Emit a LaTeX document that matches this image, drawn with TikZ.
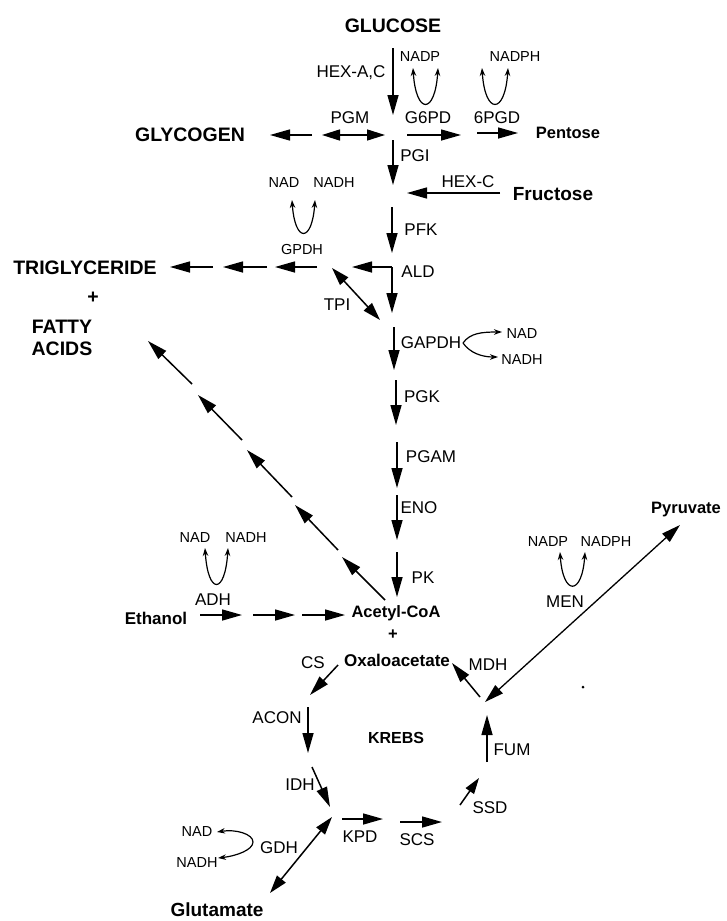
\documentclass[tikz,border=0pt]{standalone}
\usepackage{fontspec}
\setmainfont{Liberation Sans}
\usetikzlibrary{arrows.meta}
\tikzset{
  arr/.style={line width=1.5pt, -{Triangle[length=20pt,width=11pt]}},
  darr/.style={line width=1.5pt, {Triangle[length=18pt,width=11pt]}-{Triangle[length=18pt,width=11pt]}},
  carr/.style={line width=1.2pt, {Stealth[length=8pt,width=5.5pt]}-{Stealth[length=8pt,width=5.5pt]}},
  sarr/.style={line width=1.2pt, -{Stealth[length=8pt,width=5.5pt]}},
  enz/.style={font=\fontsize{17}{17}\selectfont, inner sep=0pt},
  enzs/.style={font=\fontsize{14.5}{14.5}\selectfont, inner sep=0pt},
  cof/.style={font=\fontsize{14.5}{14.5}\selectfont, inner sep=0pt},
  met/.style={font=\bfseries\fontsize{19.5}{20}\selectfont, inner sep=0pt},
  mets/.style={font=\bfseries\fontsize{16.5}{17}\selectfont, inner sep=0pt},
}
\begin{document}
\begin{tikzpicture}[x=1pt,y=-1pt]
\useasboundingbox (0,0) rectangle (726,921);
% ---------- metabolites ----------
\node[met] (glucose) at (393,26) {GLUCOSE};
\node[met] (glycogen) at (190,135) {GLYCOGEN};
\node[mets] (pentose) at (568,133) {Pentose};
\node[met,font=\bfseries\fontsize{19}{19}\selectfont] (fructose) at (553,194) {Fructose};
\node[met] (trig) at (85,268) {TRIGLYCERIDE};
\node[met] (plus1) at (93,298) {+};
\node[met] (fatty) at (62,327) {FATTY};
\node[met] (acids) at (62,349) {ACIDS};
\node[mets] (acoa) at (396,613) {Acetyl-CoA};
\node[mets] (plus2) at (393,635) {+};
\node[mets,font=\bfseries\fontsize{17}{17}\selectfont] (oaa) at (397,660) {Oxaloacetate};
\node[mets,font=\bfseries\fontsize{17}{17}\selectfont] (ethanol) at (156,618) {Ethanol};
\node[mets] (pyruvate) at (686,510) {Pyruvate};
\node[mets,font=\bfseries\fontsize{16}{16}\selectfont] (krebs) at (396,738) {KREBS};
\node[met,font=\bfseries\fontsize{19}{19}\selectfont] (glutamate) at (217,910) {Glutamate};
% ---------- enzymes ----------
\node[enz] (hexac) at (351,73) {HEX-A,C};
\node[enz] (pgm) at (350,118) {PGM};
\node[enz] (g6pd) at (428,118) {G6PD};
\node[enz] (pgd) at (497,118) {6PGD};
\node[enz] (pgi) at (415,156) {PGI};
\node[enz] (hexc) at (468,182) {HEX-C};
\node[enz] (pfk) at (421,230) {PFK};
\node[enz] (ald) at (418,272) {ALD};
\node[enzs] (gpdh) at (302,250) {GPDH};
\node[enz] (tpi) at (337,305) {TPI};
\node[enz] (gapdh) at (431,343) {GAPDH};
\node[enz] (pgk) at (422,397) {PGK};
\node[enz] (pgam) at (431,457) {PGAM};
\node[enz] (eno) at (419,508) {ENO};
\node[enz] (pk) at (423,578) {PK};
\node[enz] (adh) at (213,600) {ADH};
\node[enz] (men) at (565,602) {MEN};
\node[enz] (mdh) at (488,665) {MDH};
\node[enz] (fum) at (512,750) {FUM};
\node[enz] (ssd) at (490,808) {SSD};
\node[enz] (cs) at (313,663) {CS};
\node[enz] (acon) at (277,718) {ACON};
\node[enz] (idh) at (300,785) {IDH};
\node[enz] (gdh) at (279,848) {GDH};
\node[enz] (kpd) at (360,837) {KPD};
\node[enz] (scs) at (417,840) {SCS};
% ---------- cofactors ----------
\node[cof] (nadp1) at (420,57) {NADP};
\node[cof] (nadph1) at (515,57) {NADPH};
\node[cof] (nad1) at (284,183) {NAD};
\node[cof] (nadh1) at (334,183) {NADH};
\node[cof] (nad2) at (522,334) {NAD};
\node[cof] (nadh2) at (522,360) {NADH};
\node[cof] (nad3) at (195,538) {NAD};
\node[cof] (nadh3) at (246,538) {NADH};
\node[cof] (nadp4) at (548,542) {NADP};
\node[cof] (nadph4) at (606,542) {NADPH};
\node[cof] (nad5) at (197,832) {NAD};
\node[cof] (nadh5) at (197,863) {NADH};
% ---------- coordinates ----------
\coordinate (hexS) at (393,48);   \coordinate (hexE) at (393,115);
\coordinate (pgmA) at (322,135);  \coordinate (pgmB) at (385,135);
\coordinate (glyS) at (312,135);  \coordinate (glyE) at (270,135);
\coordinate (g6S) at (407,135);   \coordinate (g6E) at (461,135);
\coordinate (pgS) at (477,133);   \coordinate (pgE) at (518,133);
\coordinate (pgiS) at (393,140);  \coordinate (pgiE) at (393,185);
\coordinate (hcS) at (500,193);   \coordinate (hcE) at (407,193);
\coordinate (pfkS) at (392,207);  \coordinate (pfkE) at (392,253);
\coordinate (aldC) at (392,267);  \coordinate (aldL) at (352,267); \coordinate (aldD) at (392,313);
\coordinate (gp1S) at (317,267);  \coordinate (gp1E) at (275,267);
\coordinate (gp2S) at (267,267);  \coordinate (gp2E) at (223,267);
\coordinate (gp3S) at (213,267);  \coordinate (gp3E) at (170,267);
\coordinate (tpiA) at (332,268);  \coordinate (tpiB) at (380,320);
\coordinate (gaS) at (394,327);   \coordinate (gaE) at (394,370);
\coordinate (pgkS) at (396,380);  \coordinate (pgkE) at (396,425);
\coordinate (pgamS) at (397,442); \coordinate (pgamE) at (397,488);
\coordinate (enoS) at (397,495);  \coordinate (enoE) at (397,540);
\coordinate (pkS) at (397,552);   \coordinate (pkE) at (397,597);
\coordinate (et1S) at (200,615);  \coordinate (et1E) at (242,615);
\coordinate (et2S) at (253,615);  \coordinate (et2E) at (295,615);
\coordinate (et3S) at (302,615);  \coordinate (et3E) at (345,615);
\coordinate (fa1S) at (385,600);  \coordinate (fa1E) at (342,557);
\coordinate (fa2S) at (338,550);  \coordinate (fa2E) at (295,505);
\coordinate (fa3S) at (292,497);  \coordinate (fa3E) at (247,450);
\coordinate (fa4S) at (242,440);  \coordinate (fa4E) at (198,395);
\coordinate (fa5S) at (192,384);  \coordinate (fa5E) at (148,341);
\coordinate (pyA) at (485,702);   \coordinate (pyB) at (680,525);
\coordinate (mdhS) at (480,697);  \coordinate (mdhE) at (452,663);
\coordinate (fumS) at (487,762);  \coordinate (fumE) at (487,715);
\coordinate (ssdS) at (460,805);  \coordinate (ssdE) at (479,778);
\coordinate (csS) at (338,665);   \coordinate (csE) at (310,695);
\coordinate (acS) at (308,707);   \coordinate (acE) at (308,753);
\coordinate (idS) at (312,767);   \coordinate (idE) at (330,807);
\coordinate (gdA) at (332,817);   \coordinate (gdB) at (270,893);
\coordinate (kpS) at (342,819);   \coordinate (kpE) at (383,819);
\coordinate (scS) at (400,822);   \coordinate (scE) at (442,822);
% ---------- main arrows ----------
\draw[arr] (hexS) -- (hexE);
\draw[darr] (pgmA) -- (pgmB);
\draw[arr] (glyS) -- (glyE);
\draw[arr] (g6S) -- (g6E);
\draw[arr] (pgS) -- (pgE);
\draw[arr] (pgiS) -- (pgiE);
\draw[arr] (hcS) -- (hcE);
\draw[arr] (pfkS) -- (pfkE);
\draw[arr] (aldC) -- (aldL);
\draw[arr] (aldC) -- (aldD);
\draw[arr] (gp1S) -- (gp1E);
\draw[arr] (gp2S) -- (gp2E);
\draw[arr] (gp3S) -- (gp3E);
\draw[darr] (tpiA) -- (tpiB);
\draw[arr] (gaS) -- (gaE);
\draw[arr] (pgkS) -- (pgkE);
\draw[arr] (pgamS) -- (pgamE);
\draw[arr] (enoS) -- (enoE);
\draw[arr] (pkS) -- (pkE);
\draw[arr] (et1S) -- (et1E);
\draw[arr] (et2S) -- (et2E);
\draw[arr] (et3S) -- (et3E);
\draw[arr] (fa1S) -- (fa1E);
\draw[arr] (fa2S) -- (fa2E);
\draw[arr] (fa3S) -- (fa3E);
\draw[arr] (fa4S) -- (fa4E);
\draw[arr] (fa5S) -- (fa5E);
\draw[line width=1.3pt, {Triangle[length=19pt,width=11pt]}-{Triangle[length=19pt,width=11pt]}] (pyA) -- (pyB);
\draw[arr] (mdhS) -- (mdhE);
\draw[arr] (fumS) -- (fumE);
\draw[line width=1.5pt, -{Triangle[length=16pt,width=10pt]}] (ssdS) -- (ssdE);
\draw[arr] (csS) -- (csE);
\draw[arr] (acS) -- (acE);
\draw[arr] (idS) -- (idE);
\draw[darr] (gdA) -- (gdB);
\draw[arr] (kpS) -- (kpE);
\draw[arr] (scS) -- (scE);
% ---------- cofactor curves ----------
\draw[carr] (413,68) .. controls (416,115) and (435,115) .. (438,68);
\draw[carr] (482,68) .. controls (485,115) and (505,115) .. (508,68);
\draw[carr] (292,200) .. controls (295,243) and (312,243) .. (315,200);
\draw[carr] (205,548) .. controls (208,595) and (225,595) .. (228,548);
\draw[carr] (560,552) .. controls (563,596) and (582,596) .. (585,552);
\coordinate (gaC) at (463,343);
\draw[sarr] (gaC) .. controls (470,333) and (482,332) .. (502,332);
\draw[sarr] (gaC) .. controls (470,353) and (482,357) .. (498,357);
\coordinate (gdC) at (253,842);
\draw[sarr] (gdC) .. controls (253,834) and (236,829) .. (217,832);
\draw[sarr] (gdC) .. controls (253,850) and (236,856) .. (218,858);
% scan dot
\fill (583,687) circle (1.5);
\end{tikzpicture}
\end{document}
